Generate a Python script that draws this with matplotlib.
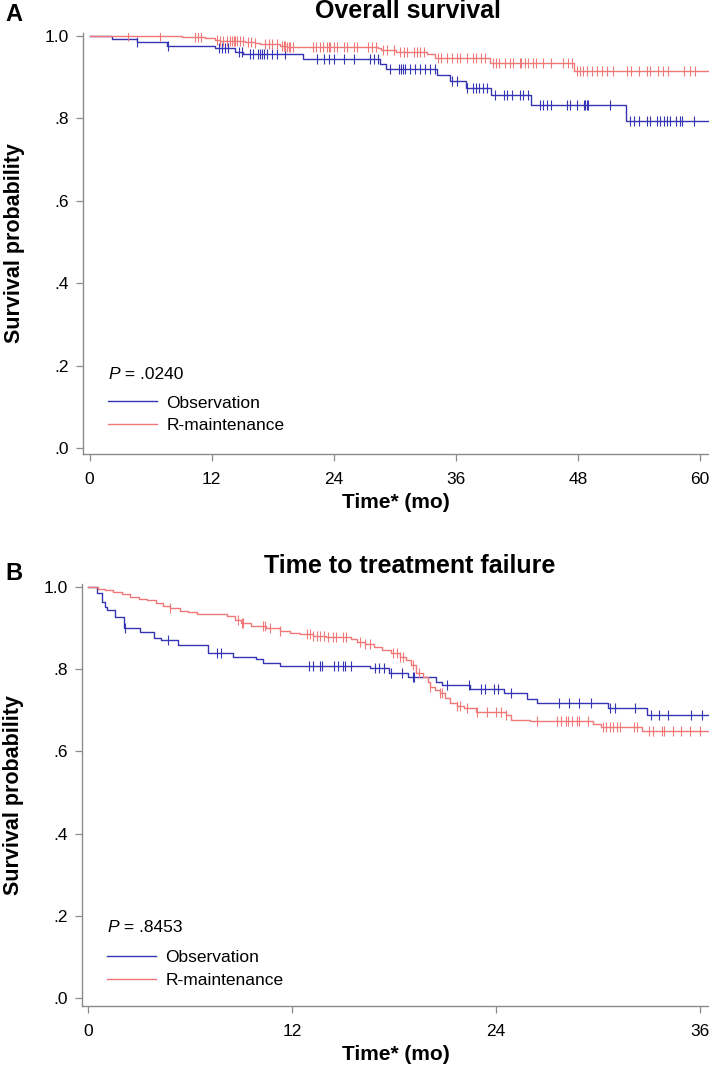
import matplotlib
matplotlib.use("Agg")
import matplotlib.pyplot as plt
import numpy as np

plt.rcParams['font.family'] = ['Liberation Sans', 'DejaVu Sans']

blue = '#3434B4'
red = '#F07878'
grey = '#8C8C8C'

# ---- A: overall survival (months, survival probability) ----
os_obs_t = [0, 2.2, 4.7, 7.65, 12.3, 14.3, 15.1, 21.0, 28.6, 29.1, 34.2, 35.4, 37.0, 39.5, 43.4, 52.7]
os_obs_s = [1.0, 0.993, 0.985, 0.976, 0.970, 0.962, 0.956, 0.944, 0.932, 0.920, 0.905, 0.891, 0.875, 0.857, 0.833, 0.794]
os_obs_cens = [4.7, 7.7, 12.7, 13.0, 13.3, 13.65, 14.7, 15.0, 15.8, 16.1, 16.6, 16.8, 17.0, 17.2, 17.4,
               17.9, 18.4, 19.2, 22.4, 23.1, 23.5, 24.0, 25.0, 26.0, 27.6, 28.0, 28.4, 29.5, 30.4, 30.6,
               30.8, 31.0, 31.5, 32.0, 32.5, 33.0, 33.5, 34.0, 35.6, 36.1, 37.1, 37.7, 38.0, 38.3, 38.7,
               39.1, 39.9, 40.7, 41.0, 41.5, 42.3, 42.6, 43.1, 44.3, 44.6, 45.0, 45.4, 46.9, 47.2, 47.9,
               48.6, 48.7, 48.9, 49.0, 51.2, 53.1, 53.5, 54.0, 54.8, 55.1, 55.8, 56.1, 56.5, 56.8, 57.1,
               57.7, 58.0, 58.2, 59.4]

os_rm_t = [0, 9.1, 11.4, 12.3, 12.8, 15.3, 16.3, 16.8, 18.7, 19.4, 28.4, 28.7, 30.1, 33.2, 34.0, 39.4, 47.6]
os_rm_s = [1.0, 0.997, 0.994, 0.991, 0.988, 0.985, 0.982, 0.980, 0.976, 0.974, 0.970, 0.966, 0.962, 0.956,
           0.946, 0.935, 0.915]
os_rm_cens = [3.8, 6.9, 10.4, 10.7, 11.0, 12.5, 12.8, 13.1, 13.5, 13.8, 14.0, 14.2, 14.3, 14.5, 14.8, 15.1,
              15.6, 15.9, 16.3, 17.3, 17.6, 17.9, 18.4, 18.9, 19.1, 19.2, 19.4, 19.6, 19.7, 20.0, 22.0,
              22.3, 22.7, 23.0, 23.3, 23.5, 23.6, 24.0, 24.3, 25.0, 25.3, 26.0, 26.3, 27.4, 27.8, 28.2,
              28.9, 29.2, 29.9, 30.5, 30.9, 31.2, 31.9, 32.2, 32.5, 32.9, 34.3, 34.6, 35.1, 35.6, 36.1,
              36.4, 37.1, 37.7, 38.0, 38.5, 38.9, 39.7, 40.0, 40.3, 40.8, 41.3, 41.6, 42.3, 42.4, 42.8,
              43.1, 43.6, 43.9, 44.6, 45.4, 46.5, 47.0, 47.4, 47.9, 48.2, 48.5, 48.9, 49.4, 49.9, 50.4,
              50.9, 51.5, 52.8, 53.2, 54.0, 54.8, 55.1, 55.9, 56.4, 56.9, 58.4, 59.0, 59.5]
os_end = 60.9

# ---- B: time to treatment failure ----
ttf_obs_t = [0, 0.55, 0.8, 1.0, 1.1, 1.6, 2.1, 3.05, 3.9, 4.3, 5.3, 7.05, 8.55, 9.9, 10.3, 11.3, 16.6,
             17.7, 18.85, 20.5, 20.8, 22.5, 24.5, 25.8, 26.4, 30.6, 32.9]
ttf_obs_s = [1.0, 0.985, 0.964, 0.952, 0.944, 0.928, 0.900, 0.891, 0.875, 0.871, 0.859, 0.839, 0.830,
             0.826, 0.816, 0.808, 0.802, 0.790, 0.782, 0.770, 0.762, 0.751, 0.741, 0.727, 0.717, 0.705,
             0.689]
ttf_obs_cens = [2.2, 4.7, 7.6, 7.8, 13.0, 13.25, 13.65, 13.75, 14.5, 14.7, 15.0, 15.1, 15.5, 16.9, 17.1,
                17.4, 17.8, 18.45, 19.1, 19.2, 21.1, 22.4, 23.1, 23.35, 23.9, 24.1, 24.9, 27.7, 28.3,
                28.9, 29.6, 30.7, 31.0, 32.2, 33.1, 33.6, 34.1, 35.5, 36.1]

ttf_rm_t = [0, 0.6, 1.0, 1.5, 2.0, 2.5, 3.0, 3.45, 4.0, 4.4, 4.8, 5.4, 5.9, 6.4, 8.2, 8.65, 9.0, 9.6,
            10.5, 11.3, 11.9, 12.5, 13.25, 14.0, 15.5, 15.8, 16.3, 16.8, 17.3, 17.8, 18.35, 18.7, 19.0,
            19.3, 19.7, 20.0, 20.1, 20.4, 20.7, 21.0, 21.3, 21.7, 22.1, 22.8, 24.6, 24.9, 26.0, 29.7,
            30.2, 32.6]
ttf_rm_s = [1.0, 0.996, 0.993, 0.989, 0.982, 0.976, 0.972, 0.968, 0.960, 0.954, 0.948, 0.942, 0.938,
            0.934, 0.930, 0.920, 0.912, 0.904, 0.900, 0.894, 0.889, 0.885, 0.881, 0.879, 0.873, 0.867,
            0.861, 0.855, 0.847, 0.839, 0.830, 0.822, 0.810, 0.790, 0.782, 0.770, 0.757, 0.749, 0.741,
            0.729, 0.717, 0.711, 0.705, 0.697, 0.689, 0.676, 0.674, 0.667, 0.659, 0.650]
ttf_rm_cens = [4.8, 8.85, 9.05, 9.1, 10.3, 10.4, 10.7, 11.3, 12.9, 13.05, 13.25, 13.45, 13.65, 13.9, 14.1,
               14.4, 14.6, 15.0, 15.2, 16.0, 16.3, 16.6, 17.95, 18.15, 18.35, 18.55, 19.1, 19.5, 20.1,
               20.7, 20.8, 21.7, 21.9, 22.3, 22.9, 23.45, 24.0, 24.3, 24.6, 26.4, 27.6, 27.8, 28.1,
               28.25, 28.45, 28.75, 28.9, 29.4, 30.3, 30.5, 30.7, 30.9, 31.1, 31.3, 32.1, 32.3, 33.0,
               33.25, 33.75, 33.9, 34.4, 34.9, 35.4, 36.0]
ttf_end = 36.5

y_ticks = [0, 0.2, 0.4, 0.6, 0.8, 1.0]
y_ticklabels = ['.0', '.2', '.4', '.6', '.8', '1.0']


def km_curve(ax, t, s, cens, end, color, label):
    t = np.asarray(t)
    s = np.asarray(s)
    ax.step(np.append(t, end), np.append(s, s[-1]), where='post', color=color, lw=1.0, label=label)
    c = np.asarray(cens)
    cy = s[np.searchsorted(t, c, side='right') - 1]
    ax.plot(c, cy, ls='none', marker='|', ms=6.5, mew=0.8, color=color)


def style_axes(ax, xticks, xlim):
    ax.set_xlim(*xlim)
    ax.set_xticks(xticks)
    ax.set_yticks(y_ticks)
    ax.set_yticklabels(y_ticklabels)
    for sp in ['top', 'right']:
        ax.spines[sp].set_visible(False)
    for sp in ['left', 'bottom']:
        ax.spines[sp].set_color(grey)
        ax.spines[sp].set_linewidth(1.0)
    ax.tick_params(axis='both', colors=grey, labelcolor='black', length=5, width=0.9, labelsize=12.5)
    ax.tick_params(axis='y', pad=5)
    ax.tick_params(axis='x', pad=8)
    ax.set_xlabel('Time* (mo)', fontsize=15, fontweight='bold')
    ax.set_ylabel('Survival probability', fontsize=15.5, fontweight='bold')
    ax.yaxis.set_label_coords(-0.093, 0.5)


def p_and_legend(ax, ptxt, py, legy):
    t = ax.text(0.040, py, 'P', style='italic', fontsize=12.5, transform=ax.transAxes, va='center')
    ax.annotate(' = ' + ptxt, xy=(1, 0), xycoords=t, va='bottom', fontsize=12.5)
    ax.legend(loc='center left', bbox_to_anchor=(0.040, legy), frameon=False, fontsize=12.5,
              handlelength=2.8, handletextpad=0.55, labelspacing=0.45, borderpad=0, borderaxespad=0)


fig = plt.figure(figsize=(7.09, 10.75), dpi=100)

ax1 = fig.add_axes([83 / 709, 621 / 1075, 626 / 709, 421 / 1075])
km_curve(ax1, os_obs_t, os_obs_s, os_obs_cens, os_end, blue, 'Observation')
km_curve(ax1, os_rm_t, os_rm_s, os_rm_cens, os_end, red, 'R-maintenance')
ax1.set_ylim(-0.0146, 1.0073)
style_axes(ax1, [0, 12, 24, 36, 48, 60], (-0.64, 60.9))
ax1.set_title('Overall survival', fontsize=18, fontweight='bold', x=0.519, y=1.0356, pad=0)
p_and_legend(ax1, '.0240', 0.188, 0.094)

ax2 = fig.add_axes([82 / 709, 69 / 1075, 627 / 709, 422 / 1075])
km_curve(ax2, ttf_obs_t, ttf_obs_s, ttf_obs_cens, ttf_end, blue, 'Observation')
km_curve(ax2, ttf_rm_t, ttf_rm_s, ttf_rm_cens, ttf_end, red, 'R-maintenance')
ax2.set_ylim(-0.0195, 1.0073)
style_axes(ax2, [0, 12, 24, 36], (-0.35, 36.53))
ax2.set_title('Time to treatment failure', fontsize=18, fontweight='bold', x=0.523, y=1.026, pad=0)
p_and_legend(ax2, '.8453', 0.187, 0.088)

fig.text(0.007, 1 - 21 / 1075, 'A', fontsize=17, fontweight='bold')
fig.text(0.007, 1 - 580 / 1075, 'B', fontsize=17, fontweight='bold')

fig.savefig('out.png', dpi=100)
